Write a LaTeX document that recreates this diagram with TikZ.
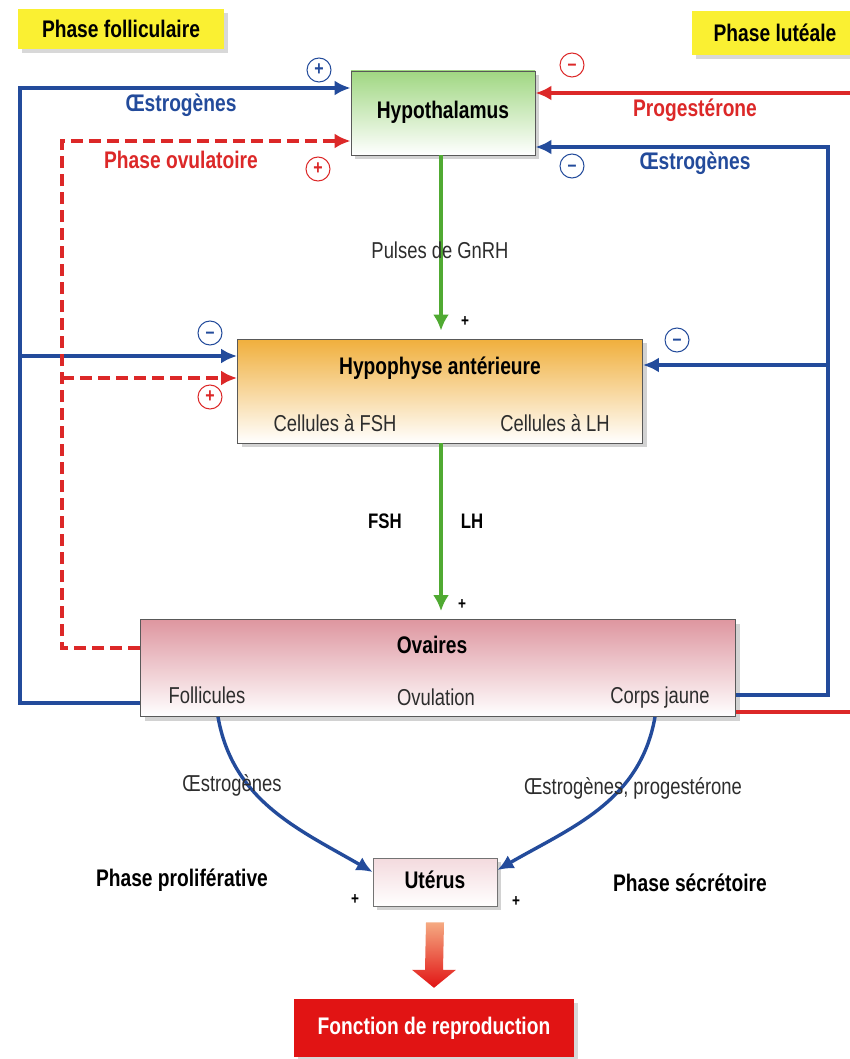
\documentclass[tikz,border=0pt]{standalone}
\usepackage{fontspec}
\setmainfont{Liberation Sans}[FakeStretch=0.8]
\usepackage{tikz}
\usetikzlibrary{arrows.meta,calc,shadows}

\definecolor{blueline}{RGB}{35,75,155}
\definecolor{redline}{RGB}{220,40,40}
\definecolor{greenline}{RGB}{80,170,50}
\definecolor{yellowbox}{RGB}{250,240,50}
\definecolor{hypogreen}{RGB}{160,215,130}
\definecolor{hypoorange}{RGB}{240,175,60}
\definecolor{ovpink}{RGB}{222,150,160}
\definecolor{fonctionred}{RGB}{225,20,20}
\definecolor{arrowtop}{RGB}{245,170,130}
\definecolor{labgrey}{RGB}{45,45,45}

\newcommand\lblbf{\fontsize{24}{26}\selectfont\bfseries}
\newcommand\lblrg{\fontsize{23}{26}\selectfont}

\begin{document}
\begin{tikzpicture}[
  x=1pt, y=1pt,
  box/.style={draw=black!65, line width=0.9pt, inner sep=0pt, drop shadow={shadow xshift=4pt, shadow yshift=-4pt, fill=black!35}},
  phasebox/.style={fill=yellowbox, inner sep=0pt, font=\lblbf, drop shadow={shadow xshift=4pt, shadow yshift=-4pt, fill=black!30}},
  title/.style={font=\lblbf, text=black},
  txt/.style={font=\lblrg, text=labgrey},
  sign/.style={circle, draw, line width=1pt, minimum size=24pt, inner sep=0pt, font=\fontsize{20}{20}\selectfont\bfseries},
  plus/.style={font=\fontsize{17}{17}\selectfont\bfseries},
  bl/.style={draw=blueline, line width=3.4pt},
  rd/.style={draw=redline, line width=3.4pt},
  rdd/.style={rd, dash pattern=on 12pt off 6pt},
  tip/.style={-{Latex[length=16pt,width=15pt]}},
  gr/.style={draw=greenline, line width=3.6pt, -{Latex[length=16pt,width=16pt]}, shorten >=8pt}
]
\useasboundingbox[fill=white] (0,0) rectangle (850,-1059);

% phases
\node[phasebox, minimum width=206pt, minimum height=40pt] (foll) at (121,-29) {Phase folliculaire};
\node[phasebox, minimum width=160pt, minimum height=44pt] (lut) at (772,-33) {\hspace*{6pt}Phase lutéale\hfill};

% boxes
\node[box, top color=hypogreen, bottom color=white, minimum width=184pt, minimum height=84pt] (hypo) at (443,-113) {};
\node[title] at (443,-112) {Hypothalamus};

\node[box, top color=hypoorange, bottom color=white, minimum width=405pt, minimum height=104pt] (hypoph) at (440,-391) {};
\node[title] at (440,-368) {Hypophyse antérieure};
\node[txt] at (335,-423) {Cellules à FSH};
\node[txt] at (555,-423) {Cellules à LH};

\node[box, top color=ovpink, bottom color=white, minimum width=595pt, minimum height=97pt] (ovaires) at (438,-668) {};
\node[title] at (432,-645) {Ovaires};
\node[txt] at (207,-695) {Follicules};
\node[txt] at (436,-697) {Ovulation};
\node[txt] at (660,-698) {Corps jaune};

\node[box, draw=black!55, top color=ovpink!35, bottom color=white, minimum width=124pt, minimum height=48pt] (uterus) at (435,-882) {};
\node[title] at (435,-880) {Utérus};

\node[fill=fonctionred, minimum width=280pt, minimum height=58pt, inner sep=0pt, font=\lblbf, text=white,
  drop shadow={shadow xshift=4pt, shadow yshift=-4pt, fill=black!30}] (fonction) at (434,-1028) {Fonction de reproduction};

% bus coordinates
\coordinate (lbus) at (20,-356);
\coordinate (rbus) at (62,-378);
\coordinate (bbus) at (828,-365);
\coordinate (pbus) at (860,-400);

% left blue: oestrogenes (+ on hypothalamus, - on hypophyse)
\draw[bl, tip] ([yshift=-35pt]ovaires.west) -| (lbus) |- ([yshift=25pt]hypo.west);
\draw[bl, tip] (lbus) -- (lbus -| hypoph.west);
% left red dashed: phase ovulatoire
\draw[rdd, tip] ([yshift=20pt]ovaires.west) -| (rbus) |- ([yshift=-28pt]hypo.west);
\draw[rdd, tip] (rbus) -- (rbus -| hypoph.west);
% right red: progesterone
\draw[rd, tip] ([yshift=-44pt]ovaires.east) -| (pbus) |- ([yshift=20pt]hypo.east);
% right blue: oestrogenes
\draw[bl, tip] ([yshift=-27pt]ovaires.east) -| (bbus) |- ([yshift=-34pt]hypo.east);
\draw[bl, tip] (bbus) -- (bbus -| hypoph.east);

\node[font=\lblbf, text=blueline] at (181,-105) {Œstrogènes};
\node[font=\lblbf, text=redline] at (181,-160) {Phase ovulatoire};
\node[font=\lblbf, text=redline] at (695,-110) {Progestérone};
\node[font=\lblbf, text=blueline] at (695,-163) {Œstrogènes};

\node[sign, draw=blueline, text=blueline] (s1) at (319,-70) {+};
\node[sign, draw=redline, text=redline] (s2) at (318,-169) {+};
\node[sign, draw=redline, text=redline] (s3) at (572,-65) {\vphantom{+}–};
\node[sign, draw=blueline, text=blueline] (s4) at (572,-166) {\vphantom{+}–};
\node[sign, draw=blueline, text=blueline] (s5) at (210,-333) {\vphantom{+}–};
\node[sign, draw=redline, text=redline] (s6) at (210,-397) {+};
\node[sign, draw=blueline, text=blueline] (s7) at (677,-340) {\vphantom{+}–};

% green: GnRH, FSH / LH
\draw[gr] (hypo.south -| 441,0) -- (hypoph.north -| 441,0);
\draw[gr] (hypoph.south -| 441,0) -- (ovaires.north -| 441,0);
\node[txt] at (440,-250) {Pulses de GnRH};
\node[plus] at (465,-322) {+};
\node[title, font=\fontsize{21}{22}\selectfont\bfseries] at (385,-521) {FSH};
\node[title, font=\fontsize{21}{22}\selectfont\bfseries] at (472,-521) {LH};
\node[plus] at (462,-605) {+};

% ovaires -> uterus
\draw[bl, tip] ([xshift=-220pt]ovaires.south) to[out=-80, in=150] ([yshift=10pt]uterus.west);
\draw[bl, tip] ([xshift=217pt]ovaires.south) to[out=-100, in=30] ([yshift=12pt]uterus.east);
\node[txt] at (232,-785) {Œstrogènes};
\node[txt] at (633,-788) {Œstrogènes, progestérone};
\node[title] at (182,-880) {Phase proliférative};
\node[title] at (690,-883) {Phase sécrétoire};
\node[plus] at (355,-900) {+};
\node[plus] at (516,-902) {+};

% uterus -> fonction
\shade[top color=arrowtop, bottom color=fonctionred]
  ($(uterus.south)+(-9,-16)$) -- ($(uterus.south)+(9,-16)$) -- ($(fonction.north)+(9,29)$)
  -- ($(fonction.north)+(22,29)$) -- ($(fonction.north)+(0,11)$) -- ($(fonction.north)+(-22,29)$)
  -- ($(fonction.north)+(-9,29)$) -- cycle;
\end{tikzpicture}
\end{document}
